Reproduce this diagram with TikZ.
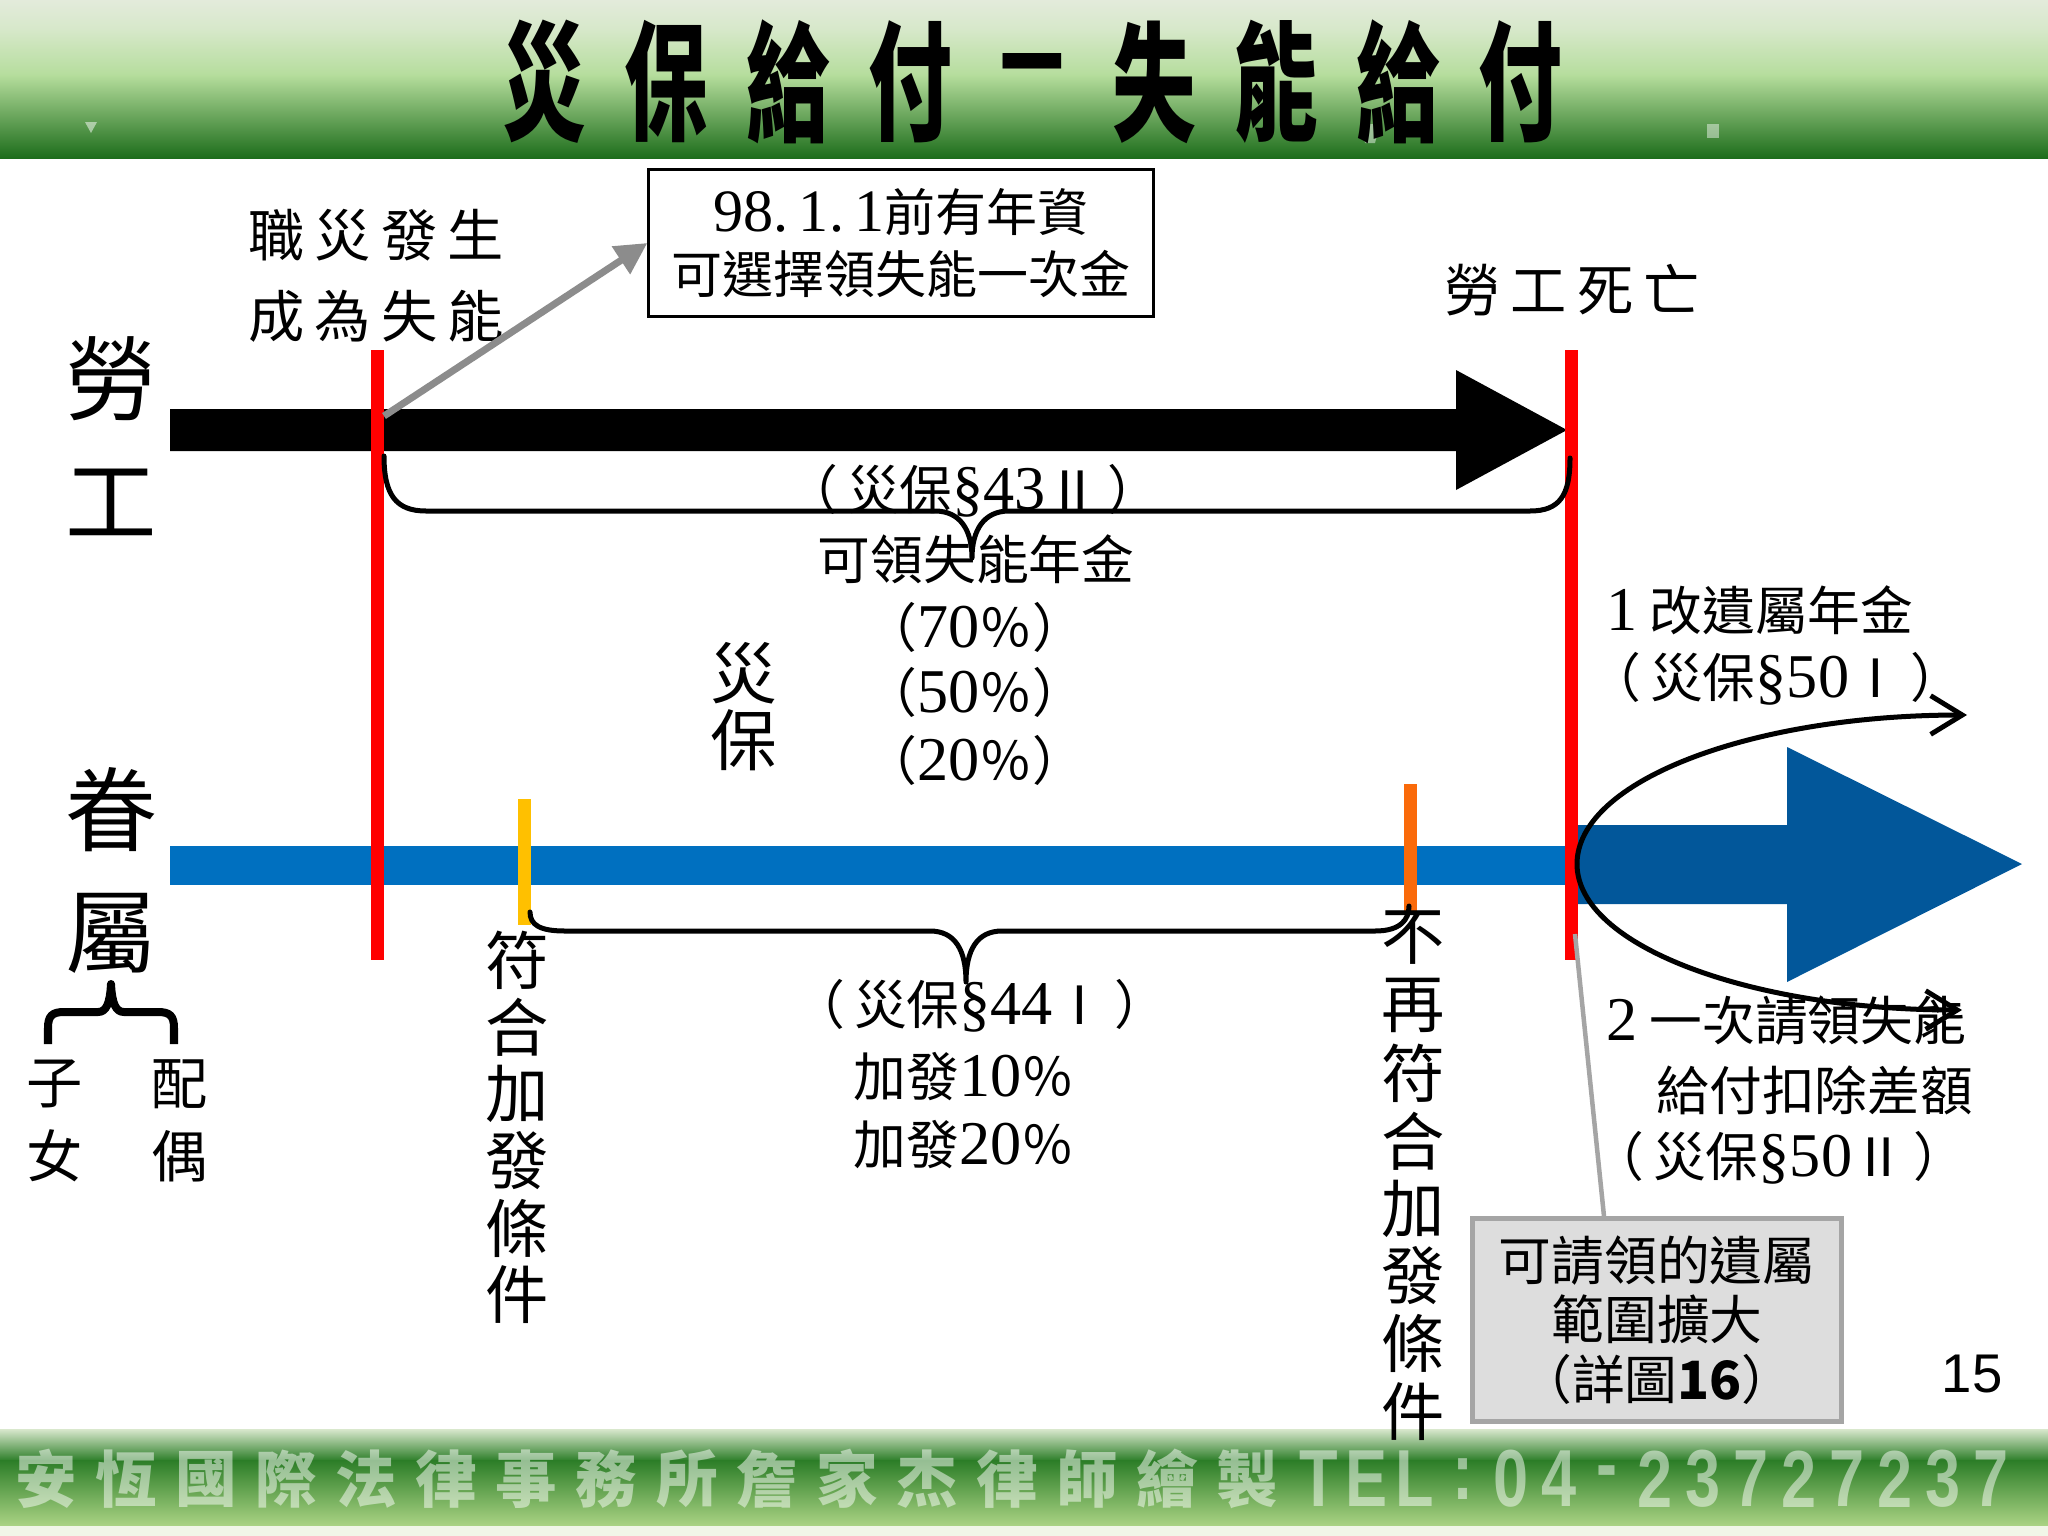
\documentclass[tikz,border=0pt]{standalone}
\usepackage{fontspec}
\setmainfont{Noto Sans CJK TC}
\newfontfamily\cjksp{Noto Sans CJK TC}[LetterSpace=18]
\newfontfamily\serf{Liberation Serif}[Scale=1.18]
\newfontfamily\sansf{Liberation Sans}
\newfontfamily\sansbf{Liberation Sans Bold}
\usetikzlibrary{arrows.meta}
\newcommand\sr[1]{{\serf #1}}
\definecolor{myred}{HTML}{FF0000}
\definecolor{barblue}{HTML}{0070C0}
\definecolor{darkblue}{HTML}{02579A}
\definecolor{myyellow}{HTML}{FFC000}
\definecolor{myorange}{HTML}{FA6A0A}
\definecolor{gA}{HTML}{E3EBDB}
\definecolor{gB}{HTML}{D6E8C9}
\definecolor{gC}{HTML}{B5DD9C}
\definecolor{gD}{HTML}{1D6D1B}
\definecolor{fA}{HTML}{D9E8CD}
\definecolor{fB}{HTML}{2B7D27}
\definecolor{fC}{HTML}{A9D283}
\definecolor{fD}{HTML}{F1F6E8}
\definecolor{boxgray}{HTML}{DDDDDD}
\definecolor{boxedge}{HTML}{A5A5A5}
\definecolor{arrgray}{HTML}{8C8C8C}
\begin{document}
\begin{tikzpicture}[x=0.01cm,y=-0.01cm,
  lbl/.style={inner sep=0pt, font=\fontsize{15}{18}\selectfont},
  lblsp/.style={inner sep=0pt, font=\fontsize{16}{19}\selectfont\cjksp},
  bigc/.style={inner sep=0pt, font=\fontsize{26}{30}\selectfont},
  vertc/.style={inner sep=0pt, font=\fontsize{18}{20}\selectfont},
  ttl/.style={inner sep=0pt, font=\fontsize{35}{38}\selectfont\bfseries},
  ftc/.style={inner sep=0pt, text=white, text opacity=0.5, font=\fontsize{17.5}{20}\selectfont\bfseries},
  ftl/.style={inner sep=0pt, text=white, text opacity=0.5, font=\fontsize{23}{26}\selectfont\sansbf},
  redl/.style={draw=myred, line width=0.13cm},
  brc/.style={draw=black, line width=0.05cm, line cap=round, line join=round},
  curvearr/.style={draw=black, line width=0.05cm, -{Straight Barb[length=9pt,width=11pt,line width=1.4pt]}},
  grayarr/.style={draw=arrgray, line width=0.07cm, -{Triangle[length=9pt,width=9pt]}},
  notebox/.style={draw=black, line width=0.03cm, fill=white, minimum width=5.04cm, minimum height=1.46cm, align=center, inner sep=0pt, font=\fontsize{14.5}{17.6}\selectfont},
  graybox/.style={draw=boxedge, line width=0.05cm, fill=boxgray, minimum width=3.68cm, minimum height=2.03cm, align=center, inner sep=0pt, font=\fontsize{15}{17}\selectfont}
]
\fill[white] (0,0) rectangle (2048,1536);
\useasboundingbox (0,0) rectangle (2048,1536);

% header band
\shade[top color=gA, bottom color=gB] (0,0) rectangle (2048,31);
\shade[top color=gB, bottom color=gC] (0,30) rectangle (2048,76);
\shade[top color=gC, bottom color=gD] (0,75) rectangle (2048,158);
\fill[white, opacity=0.5] (85,122) -- (97,122) -- (91,133) -- cycle;
\fill[white, opacity=0.45] (1360,124) -- (1380,124) -- (1375,143) -- (1365,143) -- cycle;
\fill[white, opacity=0.45] (1707,124) rectangle (1719,138);
\foreach \c [count=\i from 0] in {災,保,給,付,－,失,能,給,付}{
  \node[ttl] (h\i) at ({544+122*\i},82) {\scalebox{0.68}[1.05]{\c}};
}

% footer band
\fill[fD] (0,1520) rectangle (2048,1536);
\shade[top color=fA, bottom color=fB] (0,1429) rectangle (2048,1461);
\shade[top color=fB, bottom color=fC] (0,1460) rectangle (2048,1525);
\foreach \c [count=\i from 0] in {安,恆,國,際,法,律,事,務,所,詹,家,杰,律,師,繪,製}{
  \node[ftc] (f\i) at ({46+80.1*\i},1479) {\c};
}
\foreach \c [count=\i from 0] in {T,E,L,:,0,4,-,2,3,7,2,7,2,3,7}{
  \node[ftl] (ft\i) at ({1319+48*\i},1479) {\scalebox{0.78}[1]{\c}};
}

% timelines
\fill[barblue] (170,846) rectangle (1571,885);
\fill[black] (170,409) -- (1456,409) -- (1456,370) -- (1567,430) -- (1456,490) -- (1456,451) -- (170,451) -- cycle;
\fill[darkblue] (1578,825) -- (1787,825) -- (1787,747) -- (2022,864) -- (1787,982) -- (1787,904) -- (1578,904) -- cycle;

\coordinate (r1t) at (377,350); \coordinate (r1b) at (377,960);
\coordinate (r2t) at (1571,350); \coordinate (r2b) at (1571,960);
\draw[redl] (r1t) -- (r1b);
\draw[redl] (r2t) -- (r2b);
\coordinate (yt) at (524,799); \coordinate (yb) at (524,925);
\coordinate (ot) at (1410,784); \coordinate (ob) at (1410,912);
\draw[draw=myyellow, line width=0.13cm] (yt) -- (yb);
\draw[draw=myorange, line width=0.13cm] (ot) -- (ob);

% side labels
\node[bigc] (lao) at (111,379) {勞};
\node[bigc] (gong) at (111,502) {工};
\node[bigc] (juan) at (111,810) {眷};
\node[bigc] (shu) at (111,933) {屬};
\draw[brc, line width=0.08cm, line cap=butt] (48,1044) -- (48,1028) .. controls (48,1016) and (52,1012) .. (64,1012) -- (98,1012) .. controls (106,1012) and (110,1004) .. (111,984) .. controls (112,1004) and (116,1012) .. (124,1012) -- (158,1012) .. controls (170,1012) and (174,1016) .. (174,1028) -- (174,1044);
\node[lbl, font=\fontsize{16}{19}\selectfont] (zi) at (55,1084) {子};
\node[lbl, font=\fontsize{16}{19}\selectfont] (nv) at (55,1156) {女};
\node[lbl, font=\fontsize{16}{19}\selectfont] (pei) at (180,1084) {配};
\node[lbl, font=\fontsize{16}{19}\selectfont] (ou) at (180,1156) {偶};

% top labels
\node[lblsp] (occ1) at (376,235) {職災發生};
\node[lblsp] (occ2) at (376,316) {成為失能};
\node[lblsp] (death) at (1572,290) {勞工死亡};
\node[notebox] (bx) at (901,243) {\sr{98.\,1.\,1}前有年資\\可選擇領失能一次金};
\coordinate (ga) at (384,416);
\draw[grayarr] (ga) -- (bx.west);

% upper brace
\coordinate (b1) at (384,456);
\coordinate (b2) at (1570,458);
\draw[brc] (b1) .. controls (384,495) and (396,511) .. (426,511) -- (935,511) .. controls (960,511) and (972,530) .. (972,558) .. controls (972,530) and (984,511) .. (1009,511) -- (1530,511) .. controls (1560,511) and (1570,495) .. (b2);
\node[lbl] (s43) at (973,491) {（\,災保\sr{§43}Ⅱ\,）};
\node[lbl] (ann) at (976,559) {可領失能年金};
\node[lbl] (p70) at (975,627) {（\sr{70}％）};
\node[lbl] (p50) at (975,692) {（\sr{50}％）};
\node[lbl] (p20) at (975,760) {（\sr{20}％）};
\node[inner sep=0pt, font=\fontsize{19}{21}\selectfont] (zai) at (744,673) {災};
\node[inner sep=0pt, font=\fontsize{19}{21}\selectfont] (bao) at (744,740) {保};

% lower brace
\coordinate (l1) at (530,912);
\coordinate (l2) at (1409,906);
\draw[brc] (l1) .. controls (530,925) and (540,931) .. (565,931) -- (930,931) .. controls (955,931) and (966,950) .. (966,982) .. controls (966,950) and (977,931) .. (1002,931) -- (1375,931) .. controls (1400,931) and (1409,920) .. (l2);
\node[lbl] (s44) at (980,1006) {（\,災保\sr{§44}Ⅰ\,）};
\node[lbl] (a10) at (964,1077) {加發\sr{10}％};
\node[lbl] (a20) at (964,1145) {加發\sr{20}％};

% vertical texts
\foreach \c [count=\i from 0] in {符,合,加,發,條,件}{
  \node[vertc] (va\i) at (517,{960+67*\i}) {\c};
}
\foreach \c [count=\i from 0] in {不,再,符,合,加,發,條,件}{
  \node[vertc] (vb\i) at (1413,{938+67.6*\i}) {\c};
}

% right side
\coordinate (cs) at (1577,864);
\coordinate (ce1) at (1967,715);
\coordinate (ce2) at (1962,1010);
\draw[curvearr] (cs) .. controls (1577,781) and (1751,715) .. (ce1);
\draw[curvearr] (cs) .. controls (1577,946) and (1751,1010) .. (ce2);
\node[lbl, anchor=west] (r1) at (1606,610) {\sr{1} 改遺屬年金};
\node[lbl, anchor=west] (r2) at (1588,679) {（\,災保\sr{§50}Ⅰ\,）};
\node[lbl, anchor=west] (r3) at (1606,1021) {\sr{2} 一次請領失能};
\node[lbl, anchor=west] (r4) at (1656,1090) {給付扣除差額};
\node[lbl, anchor=west] (r5) at (1591,1158) {（\,災保\sr{§50}Ⅱ\,）};

\node[graybox] (gb) at (1657,1320) {可請領的遺屬\\範圍擴大\\（詳圖\textbf{16}）};
\coordinate (gc) at (1575,934);
\draw[draw=boxedge, line width=0.045cm] (gc) -- ([xshift=-0.53cm]gb.north);

\node[inner sep=0pt, font=\fontsize{15.5}{18}\selectfont\sansf] (pg) at (1972,1374) {15};
\end{tikzpicture}
\end{document}
